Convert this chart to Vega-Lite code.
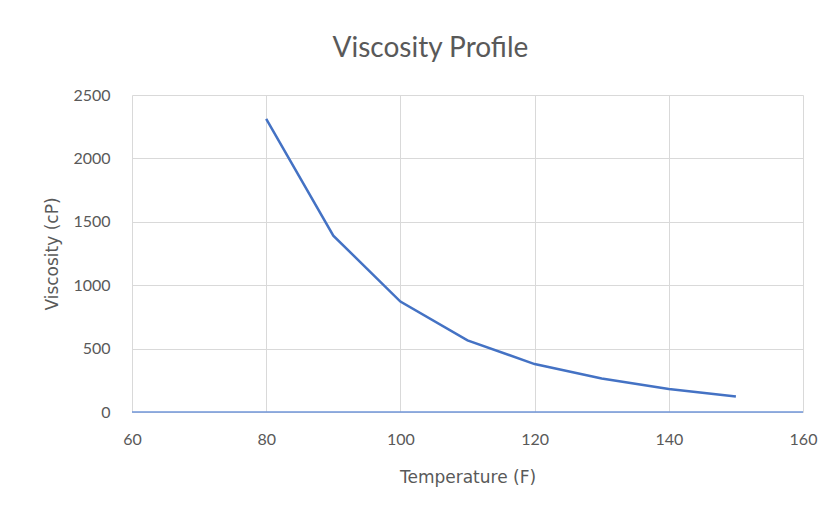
{
  "$schema": "https://vega.github.io/schema/vega-lite/v6.json",
  "autosize": "none",
  "width": 671,
  "height": 317,
  "padding": {"left": 132, "top": 95, "right": 32, "bottom": 97},
  "background": "white",
  "title": {
    "text": "Viscosity Profile",
    "font": "Lato",
    "fontSize": 28,
    "fontWeight": "normal",
    "color": "#595959",
    "anchor": "middle",
    "frame": "bounds",
    "offset": 24
  },
  "data": {
    "values": [
      {"temp": 80, "visc": 2311},
      {"temp": 90, "visc": 1391},
      {"temp": 100, "visc": 871},
      {"temp": 110, "visc": 565},
      {"temp": 120, "visc": 378},
      {"temp": 130, "visc": 264},
      {"temp": 140, "visc": 181},
      {"temp": 150, "visc": 123}
    ]
  },
  "config": {
    "view": {"stroke": null},
    "axis": {
      "labelFont": "Lato",
      "labelFontSize": 16,
      "labelColor": "#595959",
      "labelFlush": false,
      "labelBound": false,
      "titleFont": "DejaVu Sans",
      "titleFontSize": 17,
      "titleFontWeight": "normal",
      "titleColor": "#595959",
      "gridColor": "#d9d9d9",
      "gridWidth": 1,
      "ticks": false
    }
  },
  "layer": [
    {
      "mark": {"type": "rule", "color": "#7096d8", "strokeWidth": 1.5},
      "data": {"values": [{"y": 0}]},
      "encoding": {"y": {"field": "y", "type": "quantitative", "scale": {"domain": [0, 2500]}}}
    },
    {
      "mark": {"type": "line", "color": "#4472C4", "strokeWidth": 2.5},
      "encoding": {
        "x": {
          "field": "temp",
          "type": "quantitative",
          "title": "Temperature  (F)",
          "scale": {"domain": [60, 160], "nice": false, "zero": false},
          "axis": {"values": [60, 80, 100, 120, 140, 160], "format": "d", "domain": false, "labelPadding": 19, "titlePadding": 22}
        },
        "y": {
          "field": "visc",
          "type": "quantitative",
          "title": "Viscosity (cP)",
          "scale": {"domain": [0, 2500], "nice": false},
          "axis": {"values": [0, 500, 1000, 1500, 2000, 2500], "format": "d", "domain": false, "labelPadding": 22, "titlePadding": 11}
        }
      }
    }
  ]
}
